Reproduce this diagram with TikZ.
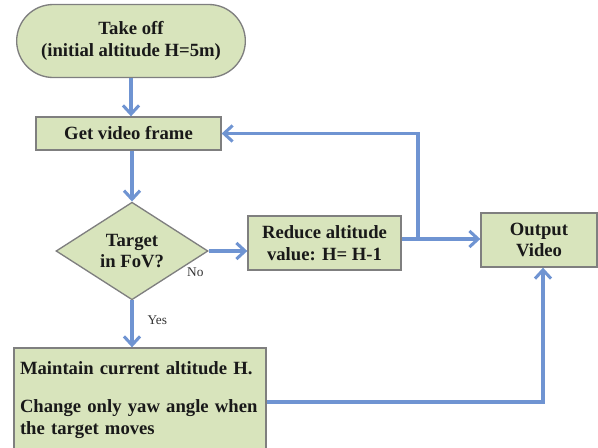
\documentclass[tikz,border=0pt]{standalone}
\usepackage{fontspec}
\setmainfont{Liberation Serif}
\usepackage{tikz}
\usetikzlibrary{shapes.geometric, shapes.misc}
\usetikzlibrary{arrows.meta}
\usepackage{xcolor}

\definecolor{boxfill}{HTML}{D8E4BC}
\definecolor{boxline}{HTML}{7F7F7F}
\definecolor{flow}{HTML}{6F94D2}

\begin{document}
\begin{tikzpicture}[x=0.75pt, y=-0.75pt]
  \tikzset{
box/.style={draw=boxline, fill=boxfill,
  line width=1pt,
    inner sep=2pt,
    font=\fontsize{14}{16}\selectfont\bfseries,
    text=black!90,
    align=center},
flowline/.style={draw=flow, line width=2.8pt,
    -{Straight Barb[length=6.5pt, width=12pt, line width=2.3pt]}},
branch/.style={font=\fontsize{10}{11}\selectfont, text=black!80},
}

  \useasboundingbox (0,0) rectangle (598,447);

  % Nodes
  \node [box, rounded rectangle, minimum width=175.5pt, minimum height=54.75pt] (takeoff) at (131,41) {Take off\\(initial altitude H=5m)};
  \node [box, minimum width=138.75pt, minimum height=24.75pt] (frame) at (128.5,133.5) {Get video frame};
  \node [box, diamond, minimum width=114pt, minimum height=70.5pt, inner sep=0pt] (target) at (132,251) {Target\\in FoV?};
  \node [box, minimum width=114.75pt, minimum height=40.5pt] (reduce) at (324.5,243) {Reduce altitude\\value: H= H-1};
  \node [box, minimum width=87pt, minimum height=40.5pt] (output) at (539,240) {Output\\Video};
  \node [box, minimum width=189pt, minimum height=78pt, align=left, inner xsep=4pt, text width=180pt, font=\fontsize{14}{16.5}\selectfont\bfseries] (maintain) at (140,400) {Maintain current altitude H.\\[12pt]Change only yaw angle when\\the target moves};
  \coordinate (split) at (418,239);

  % Connectors
  \draw [flowline] (takeoff.south) -- (takeoff.south |- frame.north);
  \draw [flowline] (frame.south -| target.north) -- (target.north);
  \draw [flowline] (target.south) -- (target.south |- maintain.north) node [branch, pos=0.42, right=7pt] {Yes};
  \draw [flowline] (target.east) -- (target.east -| reduce.west) node [branch, at start, xshift=-10pt, yshift=-16pt] {No};
  \draw [flowline] (reduce.east |- split) -- (split -| output.west);
  \draw [flowline] (split) |- (frame.east);
  \draw [flowline] ([yshift=-1.5pt]maintain.east) -| ([xshift=3pt]output.south);
\end{tikzpicture}
\end{document}
